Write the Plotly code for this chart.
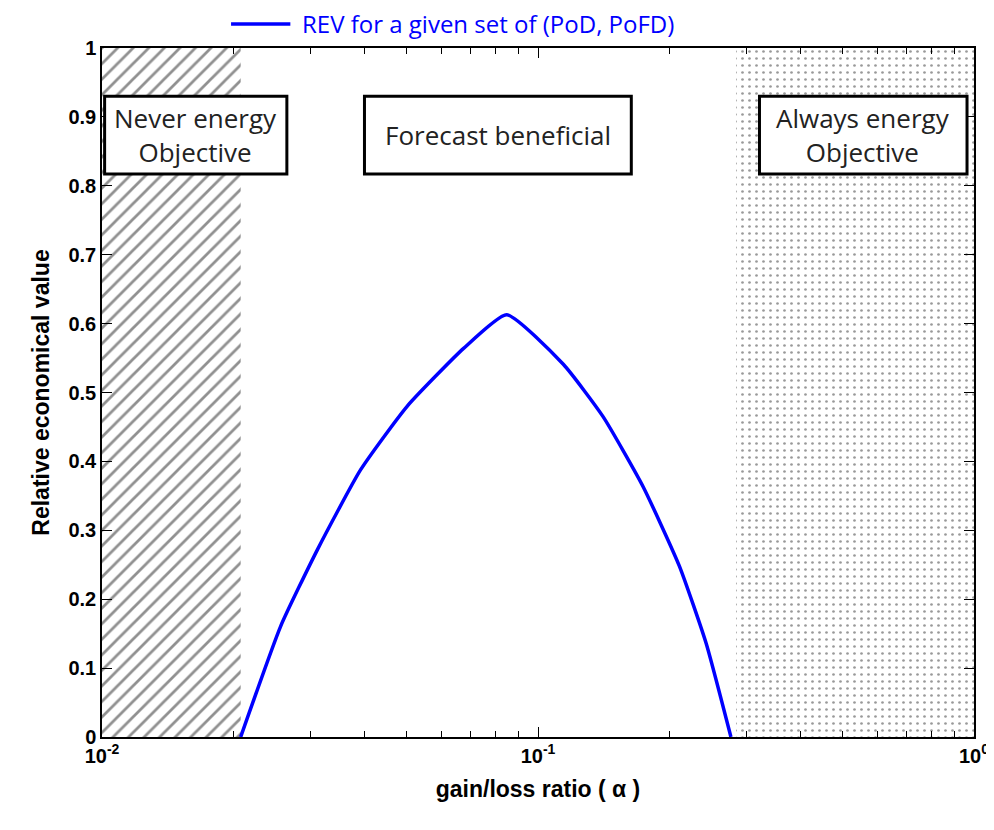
import plotly.graph_objects as go

# REV curve
alpha = [0.0208, 0.0257, 0.0312, 0.0392, 0.0501, 0.0675, 0.0847,
         0.1143, 0.141, 0.174, 0.211, 0.243, 0.277]
rev = [0.0, 0.161, 0.272, 0.388, 0.480, 0.564, 0.613,
       0.541, 0.465, 0.364, 0.248, 0.136, 0.0]

never_x = [0.01, 0.0208]
always_x = [0.2847, 1.0]
legend_label = "REV for a given set of (PoD, PoFD)"

fig = go.Figure()

fig.add_trace(go.Scatter(
    x=[never_x[0], never_x[1], never_x[1], never_x[0], never_x[0]],
    y=[0, 0, 1, 1, 0], mode="lines", line=dict(width=0),
    fill="toself", fillcolor="rgba(0,0,0,0)",
    fillpattern=dict(shape="/", fgcolor="#222", bgcolor="white", size=11, solidity=0.25),
    showlegend=False, hoverinfo="skip"))
fig.add_trace(go.Scatter(
    x=[always_x[0], always_x[1], always_x[1], always_x[0], always_x[0]],
    y=[0, 0, 1, 1, 0], mode="lines", line=dict(width=0),
    fill="toself", fillcolor="rgba(0,0,0,0)",
    fillpattern=dict(shape=".", fgcolor="#333", bgcolor="white", size=7, solidity=0.12),
    showlegend=False, hoverinfo="skip"))

fig.add_trace(go.Scatter(
    x=alpha, y=rev, mode="lines", name=legend_label, showlegend=False,
    line=dict(color="blue", width=3.5, shape="spline", smoothing=0.5)))

# legend drawn by hand so it does not push the top margin
fig.add_shape(type="line", xref="paper", yref="paper", x0=0.148, x1=0.216,
              y0=1.035, y1=1.035, line=dict(color="blue", width=3.5))
fig.add_annotation(xref="paper", yref="paper", x=0.227, y=1.035, xanchor="left",
                   yanchor="middle", text=legend_label, showarrow=False,
                   font=dict(family="Open Sans", size=24, color="blue"))

boxes = [
    (0.003, 0.212, "Never energy<br>Objective"),
    (0.301, 0.607, "Forecast beneficial"),
    (0.754, 0.992, "Always energy<br>Objective"),
]
for x0, x1, txt in boxes:
    fig.add_shape(type="rect", xref="paper", yref="paper", x0=x0, x1=x1,
                  y0=0.817, y1=0.930, line=dict(color="black", width=3),
                  fillcolor="white", layer="above")
    fig.add_annotation(xref="paper", yref="paper", x=(x0 + x1) / 2, y=0.8735,
                       xanchor="center", yanchor="middle",
                       text=txt, showarrow=False,
                       font=dict(family="Open Sans", size=26, color="#222"))

axis_font = dict(family="Liberation Sans", size=20, color="black", weight="bold")
title_font = dict(family="Liberation Sans", size=23, color="black", weight="bold")
fig.update_layout(
    width=994, height=830,
    margin=dict(l=94, r=28, t=40, b=101),
    plot_bgcolor="white", paper_bgcolor="white",
    showlegend=False,
    xaxis=dict(type="log", range=[-2, 0], tickvals=[0.01, 0.1, 1],
               ticktext=["10<sup>-2</sup>", "10<sup>-1</sup>", "10<sup>0</sup>"],
               ticks="inside", ticklen=10, tickcolor="black", automargin=False,
               minor=dict(ticks="inside", ticklen=6, tickcolor="black",
                          tickvals=[0.02, 0.03, 0.04, 0.05, 0.06, 0.07, 0.08, 0.09,
                                    0.2, 0.3, 0.4, 0.5, 0.6, 0.7, 0.8, 0.9]),
               showline=True, linecolor="black", linewidth=1.5, mirror="ticks",
               showgrid=False, tickfont=axis_font,
               title=dict(text="gain/loss ratio ( α )", font=title_font)),
    yaxis=dict(range=[0, 1], dtick=0.1, ticks="inside", ticklen=10,
               tickcolor="black", showline=True, linecolor="black", linewidth=1.5,
               mirror="ticks", showgrid=False, zeroline=False, tickfont=axis_font,
               automargin=False,
               title=dict(text="Relative economical value", standoff=12, font=title_font)),
)

fig.write_html("out.html")
